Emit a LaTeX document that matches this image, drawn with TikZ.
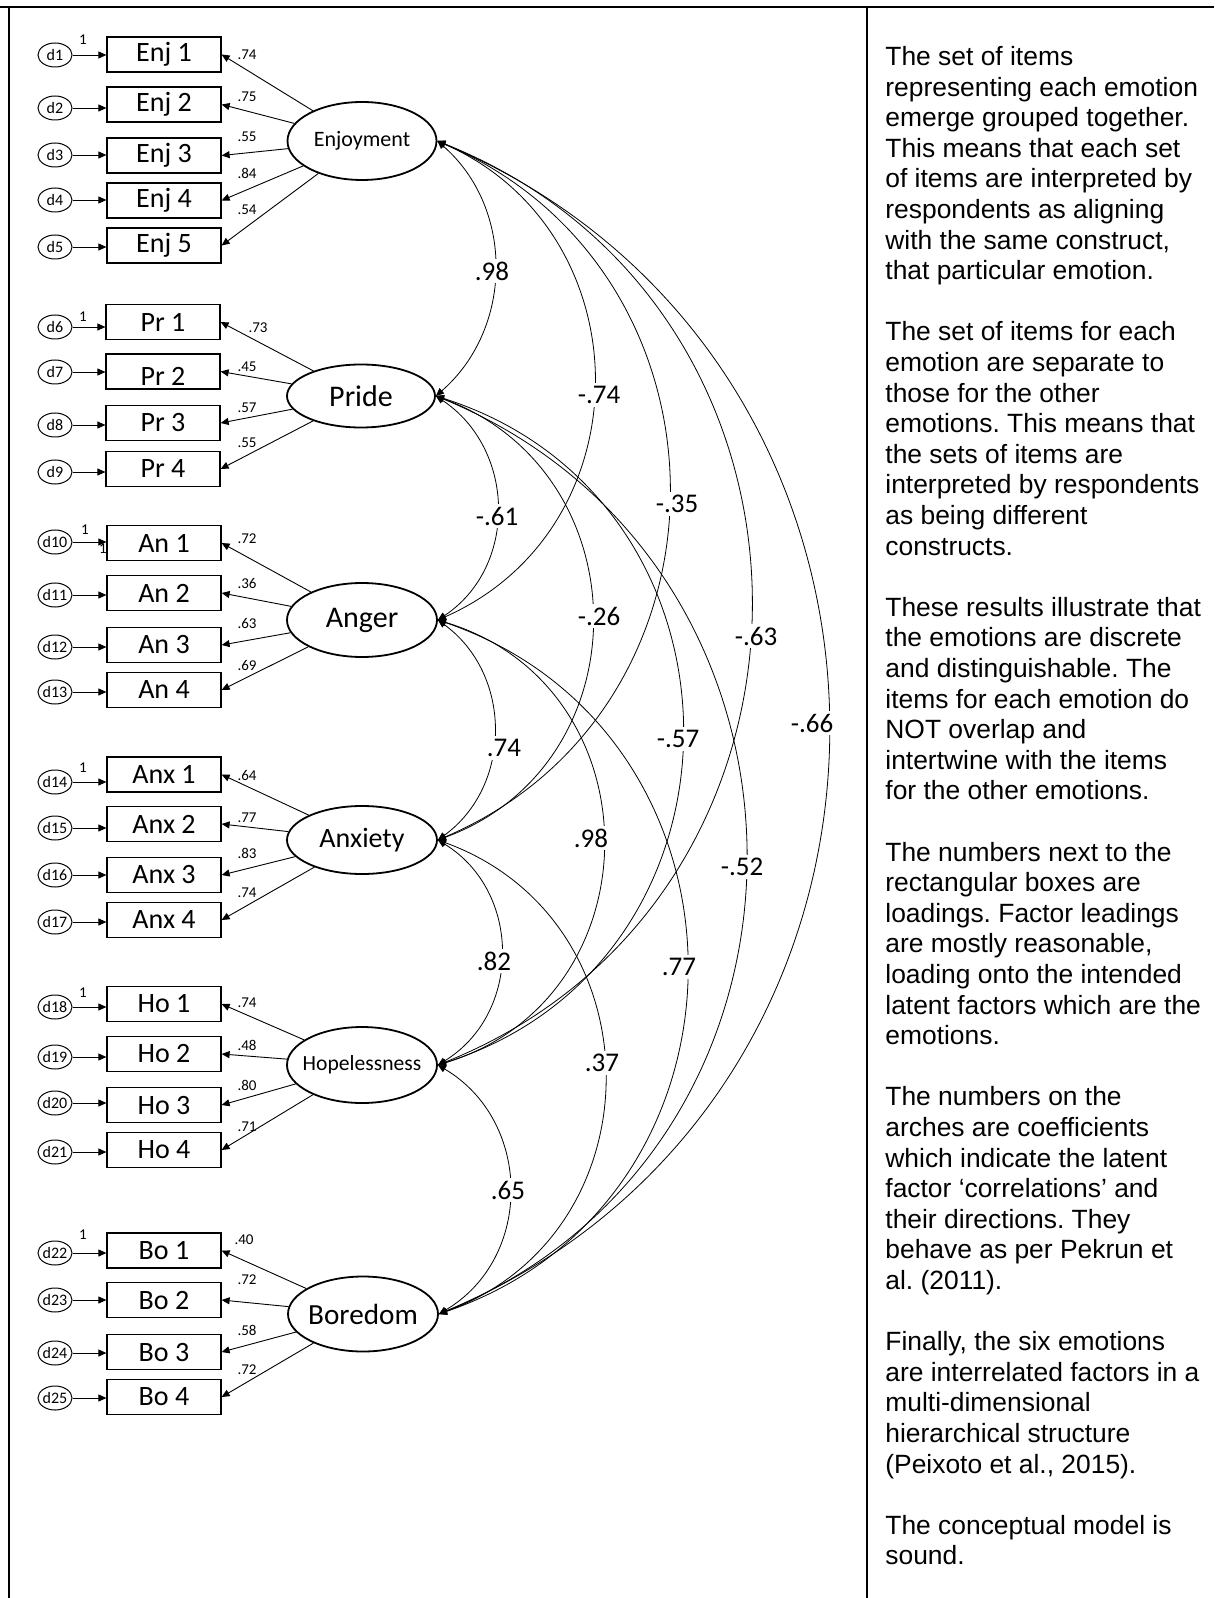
\documentclass[tikz,border=0pt]{standalone}
\usepackage{fontspec}
\setmainfont{Carlito}
\newfontfamily\arialf{Liberation Sans}
\usetikzlibrary{arrows.meta,shapes.geometric}
\frenchspacing
\begin{document}
\begin{tikzpicture}[x=0.5pt,y=0.5pt,
  item/.style={draw, line width=0.6pt, minimum width=57pt, minimum height=17.5pt, inner sep=0pt, font=\fontsize{14}{15}\selectfont},
  err/.style={draw, ellipse, line width=0.5pt, minimum width=17pt, minimum height=12pt, inner sep=0pt, font=\fontsize{8}{9}\selectfont},
  fac/.style={draw, ellipse, line width=0.9pt, inner sep=0pt},
  load/.style={font=\fontsize{7.5}{8}\selectfont, inner sep=0.5pt},
  one/.style={font=\fontsize{7.5}{8}\selectfont, inner sep=0pt},
  corr/.style={fill=white, font=\fontsize{13.5}{15}\selectfont, inner sep=1.5pt},
  arr/.style={line width=0.45pt, -{Triangle[length=4pt,width=3.5pt]}},
  cov/.style={line width=0.4pt, {Triangle[length=4pt,width=3.5pt]}-{Triangle[length=4pt,width=3.5pt]}},
  frame/.style={line width=1pt}
]
\useasboundingbox (0,0) rectangle (1214,-1598);
% frame
\coordinate (tl) at (0,-7);
\coordinate (tr) at (1214,-7);
\coordinate (lt) at (9,-7);
\coordinate (lb) at (9,-1598);
\coordinate (mt) at (867,-7);
\coordinate (mb) at (867,-1598);
\draw[frame] (tl) -- (tr);
\draw[frame] (lt) -- (lb);
\draw[frame] (mt) -- (mb);

% factors
\node[fac, minimum width=74.5pt, minimum height=39pt, font=\fontsize{11}{12}\selectfont] (F1) at (362,-141) {\makebox[0pt]{Enjoyment}};
\node[fac, minimum width=74pt, minimum height=31.5pt, font=\fontsize{15}{16}\selectfont] (F2) at (361,-396) {\makebox[0pt]{Pride}};
\node[fac, minimum width=75pt, minimum height=37pt, font=\fontsize{15}{16}\selectfont] (F3) at (362,-620) {\makebox[0pt]{Anger}};
\node[fac, minimum width=75pt, minimum height=34pt, font=\fontsize{14}{15}\selectfont] (F4) at (362,-840) {\makebox[0pt]{Anxiety}};
\node[fac, minimum width=75pt, minimum height=38pt, font=\fontsize{10.8}{12}\selectfont] (F5) at (362,-1065) {\makebox[0pt]{Hopelessness}};
\node[fac, minimum width=75pt, minimum height=37.5pt, font=\fontsize{14.6}{16}\selectfont] (F6) at (363,-1314) {\makebox[0pt]{Boredom}};

% items
\node[item] (E1) at (164,-54.5) {Enj 1};
\node[item] (E2) at (164,-104.5) {Enj 2};
\node[item] (E3) at (164,-155.5) {Enj 3};
\node[item] (E4) at (164,-200.5) {Enj 4};
\node[item] (E5) at (164,-245.5) {Enj 5};
\node[item] (P1) at (163,-322) {Pr 1};
\node[item, text height=15pt, text depth=0.5pt] (P2) at (163,-371.5) {Pr 2};
\node[item] (P3) at (163,-423) {Pr 3};
\node[item] (P4) at (163,-469) {Pr 4};
\node[item] (A1) at (164,-543) {An 1};
\node[item] (A2) at (164,-593) {An 2};
\node[item] (A3) at (164,-645) {An 3};
\node[item] (A4) at (164,-690) {An 4};
\node[item] (X1) at (164,-774.5) {Anx 1};
\node[item] (X2) at (164,-824) {Anx 2};
\node[item] (X3) at (164,-875) {Anx 3};
\node[item] (X4) at (164,-920) {Anx 4};
\node[item] (H1) at (164,-1004) {Ho 1};
\node[item] (H2) at (164,-1054) {Ho 2};
\node[item] (H3) at (164,-1105) {Ho 3};
\node[item] (H4) at (164,-1150) {Ho 4};
\node[item] (B1) at (164,-1250.5) {Bo 1};
\node[item] (B2) at (164,-1300) {Bo 2};
\node[item] (B3) at (164,-1352) {Bo 3};
\node[item] (B4) at (164,-1397) {Bo 4};

% error terms
\node[err] (d1) at (55,-55) {\makebox[0pt]{d1}};
\node[err] (d2) at (55,-108) {\makebox[0pt]{d2}};
\node[err] (d3) at (55,-155) {\makebox[0pt]{d3}};
\node[err] (d4) at (55,-200) {\makebox[0pt]{d4}};
\node[err] (d5) at (55,-247) {\makebox[0pt]{d5}};
\node[err] (d6) at (55,-327) {\makebox[0pt]{d6}};
\node[err] (d7) at (55,-372) {\makebox[0pt]{d7}};
\node[err] (d8) at (55,-425) {\makebox[0pt]{d8}};
\node[err] (d9) at (55,-472) {\makebox[0pt]{d9}};
\node[err] (d10) at (55,-542) {\makebox[0pt]{d10}};
\node[err] (d11) at (55,-595) {\makebox[0pt]{d11}};
\node[err] (d12) at (55,-647) {\makebox[0pt]{d12}};
\node[err] (d13) at (55,-692) {\makebox[0pt]{d13}};
\node[err] (d14) at (55,-782) {\makebox[0pt]{d14}};
\node[err] (d15) at (55,-828) {\makebox[0pt]{d15}};
\node[err] (d16) at (55,-875) {\makebox[0pt]{d16}};
\node[err] (d17) at (55,-922) {\makebox[0pt]{d17}};
\node[err] (d18) at (55,-1007) {\makebox[0pt]{d18}};
\node[err] (d19) at (55,-1057) {\makebox[0pt]{d19}};
\node[err] (d20) at (55,-1103) {\makebox[0pt]{d20}};
\node[err] (d21) at (55,-1152) {\makebox[0pt]{d21}};
\node[err] (d22) at (55,-1253) {\makebox[0pt]{d22}};
\node[err] (d23) at (55,-1300) {\makebox[0pt]{d23}};
\node[err] (d24) at (55,-1353) {\makebox[0pt]{d24}};
\node[err] (d25) at (55,-1398) {\makebox[0pt]{d25}};

% error arrows
\foreach \d/\b in {d1/E1,d2/E2,d3/E3,d4/E4,d5/E5,d6/P1,d7/P2,d8/P3,d9/P4,
  d10/A1,d11/A2,d12/A3,d13/A4,d14/X1,d15/X2,d16/X3,d17/X4,
  d18/H1,d19/H2,d20/H3,d21/H4,d22/B1,d23/B2,d24/B3,d25/B4}
  \draw[arr] (\d) -- (\d -| \b.west);

% fixed-path ones
\node[one] (o1) at (83,-40) {1};
\node[one] (o2) at (83,-317) {1};
\node[one] (o3) at (85,-530) {1};
\node[one] (o3b) at (103,-549) {1};
\node[one] (o4) at (83,-768) {1};
\node[one] (o5) at (83,-993) {1};
\node[one] (o6) at (83,-1235) {1};

% loadings
\foreach \f/\b in {F1/E1,F1/E2,F1/E3,F1/E4,F1/E5,F2/P1,F2/P2,F2/P3,F2/P4,
  F3/A1,F3/A2,F3/A3,F3/A4,F4/X1,F4/X2,F4/X3,F4/X4,
  F5/H1,F5/H2,F5/H3,F5/H4,F6/B1,F6/B2,F6/B3,F6/B4}
  \draw[arr] (\f) -- (\b.east);

\node[load] (l1) at (247,-55) {.74};
\node[load] (l2) at (247,-97) {.75};
\node[load] (l3) at (247,-137) {.55};
\node[load] (l4) at (247,-173) {.84};
\node[load] (l5) at (247,-210) {.54};
\node[load] (l6) at (258,-328) {.73};
\node[load] (l7) at (247,-367) {.45};
\node[load] (l8) at (247,-408) {.57};
\node[load] (l9) at (247,-443) {.55};
\node[load] (l10) at (247,-539) {.72};
\node[load] (l11) at (247,-583) {.36};
\node[load] (l12) at (247,-623) {.63};
\node[load] (l13) at (247,-665) {.69};
\node[load] (l14) at (247,-775) {.64};
\node[load] (l15) at (247,-818) {.77};
\node[load] (l16) at (247,-853) {.83};
\node[load] (l17) at (247,-893) {.74};
\node[load] (l18) at (247,-1003) {.74};
\node[load] (l19) at (247,-1045) {.48};
\node[load] (l20) at (247,-1085) {.80};
\node[load] (l21) at (247,-1127) {.71};
\node[load] (l22) at (244,-1240) {.40};
\node[load] (l23) at (247,-1280) {.72};
\node[load] (l24) at (247,-1330) {.58};
\node[load] (l25) at (247,-1370) {.72};

% correlations
\draw[cov] (F1.east) .. controls +(-41.1:102.6) and +(41.1:102.6) .. (F2.east);
\draw[cov] (F1.east) .. controls +(-23.8:227.4) and +(23.8:227.4) .. (F3.east);
\draw[cov] (F1.east) .. controls +(-23.1:334.8) and +(23.1:334.8) .. (F4.east);
\draw[cov] (F1.east) .. controls +(-21.8:449.4) and +(21.8:449.4) .. (F5.east);
\draw[cov] (F1.east) .. controls +(-22.8:563.9) and +(22.8:563.9) .. (F6.east);
\draw[cov] (F2.east) .. controls +(-33.6:96.1) and +(33.6:96.1) .. (F3.east);
\draw[cov] (F2.east) .. controls +(-20.2:220.1) and +(20.2:220.1) .. (F4.east);
\draw[cov] (F2.east) .. controls +(-17.6:342.6) and +(17.6:342.6) .. (F5.east);
\draw[cov] (F2.east) .. controls +(-22.3:443.8) and +(22.3:443.8) .. (F6.east);
\draw[cov] (F3.east) .. controls +(-36:92.3) and +(36:92.3) .. (F4.east);
\draw[cov] (F3.east) .. controls +(-16.9:229.9) and +(16.9:229.9) .. (F5.east);
\draw[cov] (F3.east) .. controls +(-18.9:349.5) and +(18.9:349.5) .. (F6.east);
\draw[cov] (F4.east) .. controls +(-31.5:98.5) and +(31.5:98.5) .. (F5.east);
\draw[cov] (F4.east) .. controls +(-20:235.5) and +(20:235.5) .. (F6.east);
\draw[cov] (F5.east) .. controls +(-30.6:110) and +(30.6:110) .. (F6.east);

\node[corr] (c12) at (492,-271) {.98};
\node[corr] (c13) at (599,-395) {-.74};
\node[corr] (c14) at (677,-504) {-.35};
\node[corr] (c15) at (756,-636) {-.63};
\node[corr] (c16) at (812,-723) {-.66};
\node[corr] (c23) at (497,-516) {-.61};
\node[corr] (c24) at (599,-616) {-.26};
\node[corr] (c25) at (678,-739) {-.57};
\node[corr] (c26) at (742,-867) {-.52};
\node[corr] (c34) at (504,-748) {.74};
\node[corr] (c35) at (591,-838) {.98};
\node[corr] (c36) at (679,-967) {.77};
\node[corr] (c45) at (494,-961) {.82};
\node[corr] (c46) at (602,-1063) {.37};
\node[corr] (c56) at (508,-1190) {.65};

% commentary
\node[anchor=north west, inner sep=0pt, align=left, font=\arialf\fontsize{13.2}{15.3}\selectfont] (txt) at (885,-46) {%
The set of items\\
representing each emotion\\
emerge grouped together.\\
This means that each set\\
of items are interpreted by\\
respondents as aligning\\
with the same construct,\\
that particular emotion.\\[15.3pt]
The set of items for each\\
emotion are separate to\\
those for the other\\
emotions. This means that\\
the sets of items are\\
interpreted by respondents\\
as being different\\
constructs.\\[15.3pt]
These results illustrate that\\
the emotions are discrete\\
and distinguishable. The\\
items for each emotion do\\
NOT overlap and\\
intertwine with the items\\
for the other emotions.\\[15.3pt]
The numbers next to the\\
rectangular boxes are\\
loadings. Factor leadings\\
are mostly reasonable,\\
loading onto the intended\\
latent factors which are the\\
emotions.\\[15.3pt]
The numbers on the\\
arches are coefficients\\
which indicate the latent\\
factor ‘correlations’ and\\
their directions. They\\
behave as per Pekrun et\\
al. (2011).\\[15.3pt]
Finally, the six emotions\\
are interrelated factors in a\\
multi-dimensional\\
hierarchical structure\\
(Peixoto et al., 2015).\\[15.3pt]
The conceptual model is\\
sound.};
\end{tikzpicture}
\end{document}
